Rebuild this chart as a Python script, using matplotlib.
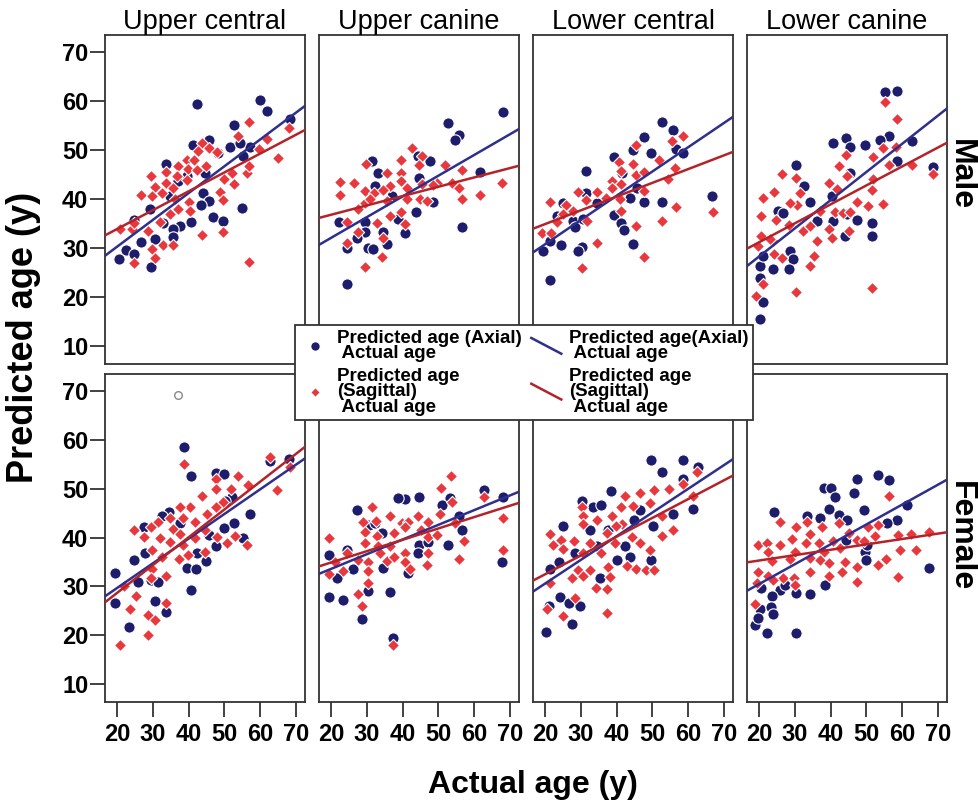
import numpy as np
import matplotlib
matplotlib.use("Agg")
import matplotlib.pyplot as plt
from matplotlib.lines import Line2D
from matplotlib.legend_handler import HandlerBase

# column / row names
teeth = ["Upper central", "Upper canine", "Lower central", "Lower canine"]
sexes = ["Male", "Female"]

# (actual age, predicted age) -- axial
uc_m_axial = [(42.4, 59.4), (59.9, 60.1), (62.0, 57.9), (52.7, 55.0), (41.3, 51.1), (45.8, 52.0), (51.6, 50.6),
              (57.0, 50.6), (33.7, 47.2), (43.9, 41.3), (45.6, 39.6), (43.4, 38.7), (54.8, 38.2), (46.7, 36.3),
              (49.7, 35.5), (40.7, 35.3), (37.6, 34.5), (35.5, 33.8), (29.2, 38.0), (24.6, 35.7), (26.6, 31.3),
              (30.7, 31.8), (22.5, 29.6), (20.4, 27.7), (29.4, 26.2), (24.6, 28.7), (35.7, 32.2), (32.9, 35.2),
              (55.3, 48.7), (68.3, 56.2), (48.3, 49.4), (54.4, 51.4), (36.9, 43.6), (44.6, 45.3), (34.8, 40.6),
              (39.5, 44.7)]
ucan_m_axial = [(67.9, 57.7), (52.6, 55.5), (55.8, 53.1), (54.6, 52.0), (31.5, 47.8), (47.7, 47.7), (33.2, 45.2),
                (44.6, 44.2), (61.6, 45.5), (48.6, 39.4), (43.6, 37.3), (22.2, 35.3), (29.5, 35.3), (29.5, 33.3),
                (34.6, 33.3), (40.5, 33.1), (27.2, 32.1), (35.5, 30.8), (30.4, 30.1), (24.4, 30.1), (31.8, 29.8),
                (56.7, 34.2), (24.4, 22.6), (38.8, 35.9), (32.3, 42.6), (36.9, 40.6), (44.4, 48.7)]
lc_m_axial = [(52.6, 55.6), (55.7, 54.0), (47.5, 52.7), (44.5, 49.9), (49.5, 49.3), (56.6, 50.1), (58.6, 49.3),
              (39.3, 48.6), (31.5, 45.7), (41.4, 45.3), (31.5, 41.3), (25.1, 39.2), (34.4, 39.1), (47.5, 39.3),
              (52.6, 39.4), (66.6, 40.6), (23.3, 36.5), (27.9, 35.5), (39.3, 36.7), (41.1, 35.2), (41.9, 33.7),
              (28.4, 34.2), (30.7, 36.0), (24.4, 30.6), (19.3, 29.4), (21.4, 31.5), (30.2, 30.2), (29.3, 29.4),
              (44.5, 30.8), (21.4, 23.5), (45.6, 42.3), (43.7, 40.3)]
lcan_m_axial = [(55.2, 61.7), (58.5, 61.9), (44.3, 52.5), (40.6, 51.4), (49.6, 51.1), (56.4, 52.9), (45.4, 50.6),
                (62.6, 51.8), (68.5, 46.6), (58.6, 47.7), (30.3, 47.0), (32.4, 42.6), (34.2, 39.4), (40.3, 40.6),
                (40.6, 35.5), (44.5, 36.9), (47.3, 35.8), (51.5, 35.1), (51.5, 32.5), (44.1, 32.5), (25.4, 37.6),
                (26.8, 37.1), (28.5, 29.4), (29.4, 27.7), (24.0, 25.8), (28.4, 25.8), (20.3, 26.4), (20.3, 23.9),
                (21.2, 19.0), (20.3, 15.5), (36.1, 35.5), (21.2, 28.4), (45.4, 45.3), (53.8, 52.1)]
uc_f_axial = [(38.8, 58.5), (40.6, 52.5), (47.7, 53.1), (49.9, 52.9), (52.0, 48.3), (57.0, 44.8), (52.7, 42.9),
              (45.6, 40.5), (49.9, 41.9), (47.7, 38.3), (55.1, 39.8), (34.6, 45.3), (32.5, 44.3), (27.4, 42.1),
              (24.6, 35.4), (19.4, 32.7), (19.4, 26.6), (25.7, 31.0), (29.4, 31.4), (31.5, 31.0), (39.5, 33.8),
              (42.1, 33.5), (44.9, 35.1), (40.6, 29.3), (30.6, 27.1), (33.7, 24.7), (23.4, 21.8), (62.7, 55.6),
              (67.9, 56.1), (50.2, 47.4), (37.6, 42.9), (42.3, 36.9), (27.8, 36.8)]
ucan_f_axial = [(62.6, 49.7), (67.9, 48.3), (40.5, 47.8), (44.6, 48.3), (38.6, 48.0), (27.2, 45.6), (53.2, 48.0),
                (50.9, 46.6), (55.6, 44.4), (56.7, 41.5), (52.6, 38.5), (44.6, 38.5), (47.1, 39.0), (44.4, 36.8),
                (30.6, 42.6), (24.4, 37.5), (19.3, 36.5), (26.2, 33.5), (34.6, 33.8), (41.4, 32.7), (21.6, 31.7),
                (30.4, 29.0), (36.5, 28.8), (19.3, 27.9), (23.4, 27.3), (28.6, 23.4), (37.4, 19.5), (67.7, 34.9),
                (32.3, 43.0), (34.2, 40.9)]
lc_f_axial = [(49.5, 55.9), (58.5, 55.8), (52.6, 53.4), (62.6, 54.4), (58.5, 52.0), (38.3, 49.5), (30.2, 47.5),
              (33.5, 46.2), (35.5, 46.6), (46.5, 45.7), (61.4, 45.9), (55.7, 44.8), (25.1, 42.4), (32.6, 41.5),
              (37.7, 41.5), (44.7, 43.6), (50.1, 42.4), (28.4, 36.8), (24.0, 34.9), (21.4, 33.5), (34.4, 38.2),
              (40.2, 35.4), (43.6, 36.0), (49.5, 35.4), (35.4, 31.7), (24.2, 27.9), (26.8, 26.6), (29.6, 26.0),
              (21.2, 26.0), (27.4, 22.4), (20.3, 20.7), (42.3, 38.2)]
lcan_f_axial = [(53.3, 52.7), (56.4, 51.7), (47.3, 52.0), (46.4, 49.1), (38.0, 50.2), (40.0, 50.2), (41.2, 48.3),
                (61.2, 46.6), (49.3, 45.6), (39.4, 45.9), (37.0, 43.9), (42.4, 44.5), (24.2, 45.3), (58.5, 43.6),
                (55.7, 43.0), (44.3, 39.5), (49.6, 37.1), (49.9, 35.4), (50.1, 38.4), (67.6, 33.8), (38.4, 30.4),
                (30.3, 28.7), (34.2, 28.4), (25.9, 29.3), (23.5, 28.0), (20.5, 29.7), (20.1, 25.3), (23.3, 25.8),
                (18.9, 22.2), (19.8, 23.6), (22.3, 20.4), (30.3, 20.5), (24.0, 24.3), (27.3, 30.2), (33.3, 44.3),
                (44.5, 43.6)]

# (actual age, predicted age) -- sagittal
uc_m_sag = [(56.9, 55.7), (53.9, 52.9), (68.0, 54.5), (61.8, 52.2), (59.7, 50.2), (64.9, 48.4), (43.8, 51.4),
            (45.8, 50.3), (47.8, 49.5), (42.7, 49.7), (39.5, 48.0), (41.6, 47.9), (36.9, 46.7), (33.7, 45.5),
            (29.5, 44.7), (36.7, 44.7), (39.7, 46.1), (42.3, 46.0), (44.7, 46.8), (33.7, 43.2), (30.6, 42.5),
            (35.7, 42.3), (39.6, 43.8), (26.7, 40.8), (29.7, 40.6), (32.5, 41.3), (36.2, 39.9), (40.0, 39.4),
            (48.8, 41.5), (49.9, 44.1), (52.7, 43.0), (56.2, 45.2), (56.9, 46.7), (49.7, 39.8), (52.0, 45.2),
            (24.1, 33.8), (20.7, 33.8), (24.6, 35.2), (28.6, 33.5), (32.0, 35.3), (36.9, 37.9), (40.4, 37.5),
            (29.7, 29.9), (32.8, 30.6), (35.5, 30.6), (30.6, 27.9), (24.6, 27.0), (43.8, 32.6), (49.7, 33.3),
            (56.8, 27.2), (34.8, 36.9)]
ucan_m_sag = [(42.5, 50.4), (45.3, 48.7), (39.6, 47.9), (44.6, 47.0), (29.7, 47.2), (51.7, 46.9), (35.5, 45.3),
              (39.6, 45.2), (56.7, 46.0), (22.5, 43.5), (26.5, 43.3), (39.6, 43.6), (29.5, 41.6), (32.1, 41.3),
              (36.5, 42.6), (34.6, 41.9), (41.1, 42.3), (45.3, 43.0), (49.5, 43.2), (53.7, 43.3), (55.8, 42.3),
              (67.7, 43.3), (22.5, 40.8), (29.5, 39.2), (35.5, 39.6), (41.1, 39.9), (44.9, 39.9), (46.7, 39.6),
              (56.7, 40.1), (61.6, 40.8), (27.6, 37.9), (30.9, 40.0), (39.6, 37.3), (36.5, 36.5), (32.8, 35.2),
              (40.5, 35.0), (24.4, 35.3), (27.6, 33.3), (34.4, 32.1), (24.4, 31.1), (34.2, 28.1), (29.5, 26.2),
              (48.6, 42.8)]
lc_m_sag = [(58.5, 52.9), (55.4, 51.8), (45.4, 50.9), (40.5, 47.5), (44.5, 47.2), (51.9, 48.0), (41.1, 45.7),
            (45.4, 44.8), (47.7, 45.5), (56.3, 46.4), (54.2, 44.1), (38.6, 43.6), (41.1, 43.0), (38.6, 42.3),
            (47.5, 41.6), (29.3, 41.4), (34.4, 41.4), (21.4, 39.4), (25.9, 38.7), (31.5, 39.8), (41.0, 39.9),
            (27.9, 37.5), (56.6, 38.4), (66.8, 37.3), (52.6, 35.5), (31.6, 35.5), (41.2, 37.5), (23.4, 35.3),
            (19.1, 33.1), (21.6, 33.1), (45.4, 34.5), (34.4, 31.1), (47.5, 28.1), (30.2, 26.0), (25.1, 36.9),
            (37.0, 40.3)]
lcan_m_sag = [(55.2, 59.7), (58.5, 56.3), (54.5, 50.4), (58.3, 50.6), (51.7, 48.6), (44.3, 48.9), (42.4, 46.7),
              (68.5, 45.0), (62.6, 46.9), (56.4, 46.9), (26.3, 45.0), (30.3, 44.3), (44.5, 44.7), (51.7, 44.0),
              (24.2, 41.4), (21.2, 40.3), (31.3, 41.3), (39.6, 43.3), (41.7, 42.1), (51.5, 41.8), (47.3, 39.4),
              (54.5, 38.9), (50.5, 38.6), (30.7, 38.8), (28.5, 39.2), (20.6, 36.5), (24.7, 35.7), (28.2, 34.8),
              (36.9, 37.5), (41.2, 37.3), (43.4, 37.1), (45.4, 37.3), (32.2, 33.5), (39.4, 33.9), (45.0, 33.5),
              (40.3, 32.0), (36.3, 31.5), (20.6, 32.5), (23.8, 31.5), (19.8, 30.4), (24.2, 28.9), (26.3, 27.9),
              (35.4, 28.4), (34.2, 26.4), (21.2, 22.6), (19.2, 20.3), (30.3, 21.0), (51.5, 21.8), (23.1, 31.8),
              (34.2, 34.5)]
uc_f_sag = [(38.8, 55.0), (62.7, 56.4), (68.3, 54.4), (53.7, 52.5), (47.7, 52.0), (56.7, 50.7), (47.7, 50.0),
            (51.8, 50.0), (49.7, 47.3), (64.8, 49.7), (43.6, 48.5), (40.4, 46.3), (47.7, 46.3), (37.6, 46.2),
            (45.0, 44.9), (38.3, 43.9), (34.8, 43.9), (31.5, 43.2), (29.5, 42.1), (24.6, 41.5), (27.4, 40.2),
            (35.5, 41.7), (37.6, 40.7), (41.8, 43.2), (32.0, 39.9), (34.8, 39.0), (38.5, 38.5), (41.8, 39.9),
            (47.8, 40.2), (50.8, 38.8), (52.8, 40.3), (56.4, 38.5), (29.7, 37.5), (32.5, 36.1), (37.4, 35.6),
            (39.9, 36.5), (44.6, 37.1), (29.7, 33.6), (33.7, 32.2), (29.5, 31.7), (25.3, 28.0), (33.7, 26.6),
            (23.6, 25.3), (28.5, 24.1), (30.6, 23.1), (28.5, 20.0), (20.7, 18.0), (21.8, 30.0), (44.6, 41.5)]
ucan_f_sag = [(53.5, 52.5), (50.7, 50.2), (62.8, 48.2), (53.7, 47.3), (31.4, 46.2), (50.4, 44.8), (67.9, 43.9),
              (29.0, 43.2), (32.5, 43.4), (36.5, 44.4), (39.9, 42.9), (41.6, 43.2), (44.4, 44.4), (47.2, 43.2),
              (54.6, 43.0), (19.3, 39.9), (29.5, 41.2), (32.8, 40.3), (37.7, 40.9), (40.7, 42.1), (45.1, 41.5),
              (47.0, 40.2), (49.5, 40.5), (57.2, 39.2), (24.4, 36.9), (29.5, 38.8), (33.2, 38.2), (36.5, 38.2),
              (40.7, 36.8), (47.2, 36.8), (27.4, 35.4), (30.4, 34.9), (35.5, 35.1), (37.7, 36.1), (40.7, 34.9),
              (19.3, 32.6), (23.4, 33.1), (30.4, 33.1), (41.9, 33.5), (46.7, 34.4), (55.6, 35.6), (67.9, 37.5),
              (30.2, 30.8), (27.4, 28.5), (28.6, 26.1), (37.4, 18.0), (21.1, 34.9), (33.7, 36.8)]
lc_f_sag = [(62.4, 53.4), (58.6, 51.0), (50.4, 49.8), (54.7, 50.0), (46.5, 49.1), (42.3, 48.5), (30.2, 46.2),
            (49.3, 47.0), (44.5, 46.4), (41.1, 46.3), (61.4, 48.5), (38.6, 44.3), (34.4, 43.6), (30.5, 44.3),
            (52.6, 44.3), (30.7, 42.8), (41.4, 42.8), (37.2, 40.9), (21.4, 40.7), (24.4, 39.5), (22.1, 38.5),
            (25.1, 37.7), (28.1, 39.2), (32.6, 38.8), (39.6, 38.8), (44.3, 40.2), (46.5, 38.8), (52.6, 40.3),
            (55.7, 41.5), (49.3, 37.5), (30.7, 36.8), (35.5, 36.9), (29.3, 33.3), (32.6, 33.4), (37.7, 34.0),
            (42.8, 34.1), (45.5, 33.6), (48.1, 33.4), (50.3, 33.3), (27.4, 31.7), (30.7, 32.2), (38.2, 31.9),
            (34.2, 29.7), (37.4, 29.5), (21.4, 30.7), (28.4, 27.7), (20.5, 25.3), (25.1, 23.9), (37.4, 24.5),
            (39.8, 42.3)]
lcan_f_sag = [(56.4, 48.5), (53.3, 42.6), (50.5, 42.2), (42.4, 42.9), (37.5, 42.2), (33.3, 43.2), (25.7, 43.2),
              (30.3, 42.2), (34.2, 40.8), (58.8, 40.5), (62.5, 40.7), (67.5, 41.2), (63.9, 37.5), (59.3, 37.5),
              (19.8, 38.5), (22.1, 38.8), (25.9, 38.5), (29.1, 39.7), (33.1, 38.8), (36.6, 38.9), (40.6, 39.2),
              (45.0, 40.9), (47.3, 39.5), (52.4, 40.3), (49.2, 39.2), (22.6, 37.1), (30.1, 37.1), (38.0, 37.1),
              (42.6, 37.8), (23.5, 35.1), (28.7, 35.6), (34.2, 35.8), (37.0, 35.4), (39.6, 34.8), (44.1, 34.9),
              (53.3, 34.4), (55.5, 35.6), (47.3, 34.0), (19.8, 32.9), (22.6, 32.1), (26.8, 31.7), (29.6, 31.7),
              (34.2, 32.9), (39.4, 32.2), (43.1, 32.9), (47.3, 31.0), (58.8, 31.9), (19.5, 30.8), (30.1, 30.2),
              (18.9, 26.5), (24.0, 31.4)]

# fitted line: predicted age at actual age 20 and 70
fit_axial = [[(30.3, 57.6), (32.1, 53.2), (30.8, 55.5), (28.3, 57.0)],
             [(29.7, 54.9), (33.6, 48.6), (30.6, 54.8), (30.5, 50.8)]]
fit_sag = [[(33.9, 53.1), (36.8, 46.3), (34.9, 48.9), (31.2, 50.5)],
           [(28.7, 57.1), (34.9, 46.5), (32.5, 51.7), (35.3, 40.8)]]

# the single outlier drawn as an open circle (female, upper central)
outlier = (37.1, 69.2)

axial = [[uc_m_axial, ucan_m_axial, lc_m_axial, lcan_m_axial],
         [uc_f_axial, ucan_f_axial, lc_f_axial, lcan_f_axial]]
sagittal = [[uc_m_sag, ucan_m_sag, lc_m_sag, lcan_m_sag],
            [uc_f_sag, ucan_f_sag, lc_f_sag, lcan_f_sag]]

NAVY = "#1d1d6c"
RED = "#e8383d"
NAVY_LINE = "#2f2f8e"
RED_LINE = "#b3232a"

plt.rcParams["font.family"] = ["Liberation Sans", "DejaVu Sans"]

fig = plt.figure(figsize=(9.79, 8.05), dpi=100)

col_left = [105, 319, 533, 747]
row_top = [35, 374]
row_bottom = [364, 702]
W, H = 979, 805

for r in range(2):
    for c in range(4):
        x0 = col_left[c] / W
        y0 = 1 - row_bottom[r] / H
        ax = fig.add_axes([x0, y0, 200 / W, (row_bottom[r] - row_top[r]) / H])
        a = np.array(axial[r][c])
        s = np.array(sagittal[r][c])
        ax.scatter(a[:, 0], a[:, 1], s=66, marker="o", color=NAVY, edgecolors="white", linewidths=0.8, zorder=2)
        ax.scatter(s[:, 0], s[:, 1], s=38, marker="D", color=RED, edgecolors="white", linewidths=0.8, zorder=3)
        if r == 1 and c == 0:
            ax.scatter([outlier[0]], [outlier[1]], s=30, marker="o", facecolors="white",
                       edgecolors="#888888", linewidths=1.0, zorder=3)
        fa = fit_axial[r][c]
        fs = fit_sag[r][c]
        ax.axline((20, fa[0]), (70, fa[1]), color=NAVY_LINE, lw=1.8, zorder=4)
        ax.axline((20, fs[0]), (70, fs[1]), color=RED_LINE, lw=1.8, zorder=4)

        ax.set_xlim(16.6, 72.5)
        ax.set_ylim(6.4, 73.4)
        for sp in ax.spines.values():
            sp.set_color("#333333")
            sp.set_linewidth(1.3)
        ax.set_xticks([20, 30, 40, 50, 60, 70])
        ax.set_yticks([10, 20, 30, 40, 50, 60, 70])
        ax.tick_params(length=11, width=1.3, color="#333333", labelsize=17)
        ax.tick_params(axis="x", pad=4)
        ax.tick_params(axis="y", pad=1)
        if r == 0:
            ax.tick_params(axis="x", length=0, labelbottom=False)
            ax.set_title(teeth[c], fontsize=19.5, pad=3)
        else:
            for lab in ax.get_xticklabels():
                lab.set_fontweight("bold")
        if c == 0:
            for lab in ax.get_yticklabels():
                lab.set_fontweight("bold")
        else:
            ax.tick_params(axis="y", length=0, labelleft=False)

# row labels
fig.text(961 / W, 1 - 175 / H, sexes[0], rotation=-90, fontsize=23, fontweight="bold", ha="center", va="center")
fig.text(961 / W, 1 - 536 / H, sexes[1], rotation=-90, fontsize=23, fontweight="bold", ha="center", va="center")

# axis labels
fig.text(24 / W, 1 - 337 / H, "Predicted age (y)", rotation=90, fontsize=26, fontweight="bold",
         ha="center", va="center")
fig.text(533 / W, 1 - 785 / H, "Actual age (y)", fontsize=23, fontweight="bold", ha="center", va="center")


class DiagonalLine(HandlerBase):
    def create_artists(self, legend, orig_handle, xdescent, ydescent, width, height, fontsize, trans):
        ln = Line2D([0, width], [height * 1.1, -height * 0.1], color=orig_handle.get_color(),
                    lw=orig_handle.get_linewidth())
        ln.set_transform(trans)
        return [ln]


h_ax_pt = Line2D([], [], ls="none", marker="o", markersize=7, color=NAVY, markeredgecolor="white")
h_sag_pt = Line2D([], [], ls="none", marker="D", markersize=5, color=RED, markeredgecolor="white")
h_ax_ln = Line2D([], [], color=NAVY_LINE, lw=1.8)
h_sag_ln = Line2D([], [], color=RED_LINE, lw=1.8)

handles = [h_ax_pt, h_sag_pt, h_ax_ln, h_sag_ln]
labels = ["Predicted age (Axial)\n Actual age", "Predicted age\n(Sagittal)\n Actual age",
          "Predicted age(Axial)\n Actual age", "Predicted age\n(Sagittal)\n Actual age"]

leg = fig.legend(handles, labels, ncol=2, loc="upper left", bbox_to_anchor=(295 / W, 1 - 325 / H),
                 prop={"size": 13.5, "weight": "bold"}, frameon=True, fancybox=False, edgecolor="#333333",
                 framealpha=1, handlelength=1.6, handletextpad=0.4, columnspacing=0.5, labelspacing=0.3,
                 borderpad=0.25, borderaxespad=0,
                 handler_map={h_ax_ln: DiagonalLine(), h_sag_ln: DiagonalLine()})
leg.get_frame().set_linewidth(1.3)
for t in leg.get_texts():
    t.set_linespacing(0.88)

fig.savefig("out.png", dpi=100)
